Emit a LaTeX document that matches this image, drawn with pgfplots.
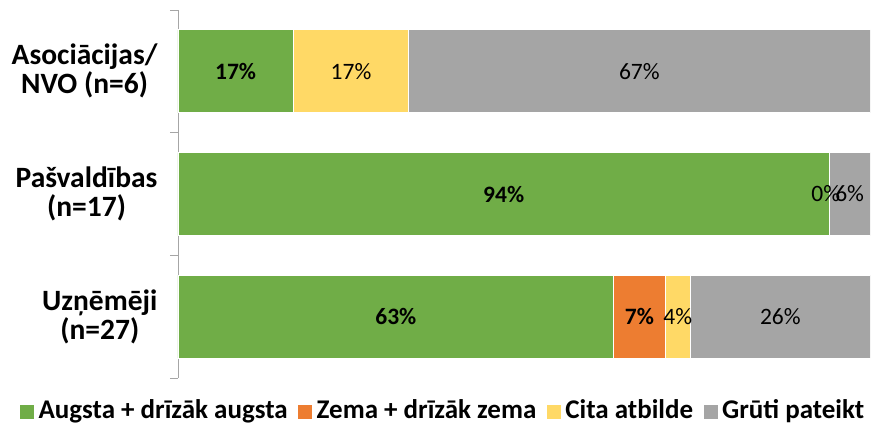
\documentclass[border=0pt]{standalone}
\usepackage{pgfplots}
\pgfplotsset{compat=1.18}
\usepackage{fontspec}
\setmainfont{Carlito}
\definecolor{cgreen}{HTML}{70AD47}
\definecolor{corange}{HTML}{ED7D31}
\definecolor{cyellow}{HTML}{FFD966}
\definecolor{cgrey}{HTML}{A5A5A5}
\begin{document}
\begin{tikzpicture}
\useasboundingbox (-178pt,-46pt) rectangle (697pt,378pt);
\begin{axis}[
 scale only axis, width=692pt, height=368pt,
 xmin=0, xmax=100, ymin=-0.5, ymax=2.5, y dir=reverse,
 xbar stacked, bar width=83pt,
 axis x line=none, axis y line*=left,
 y axis line style={gray!70, line width=0.8pt},
 ytick={0,1,2},
 yticklabels={{Asociācijas/\\NVO (n=6)},{Pašvaldības\\(n=17)},{Uzņēmēji\\(n=27)}},
 major tick length=0pt,
 minor ytick={-0.5,0.5,1.5,2.5}, minor tick length=8pt,
 tick align=outside, ytick pos=left,
 minor tick style={gray!70, line width=0.8pt},
 yticklabel style={align=center, font=\fontsize{29.5}{29}\selectfont\bfseries, xshift=-17pt},
 legend columns=-1,
 legend style={at={(axis description cs:0.385,-0.087)}, anchor=center, draw=none, fill=none,
   font=\fontsize{27}{30}\selectfont\bfseries, inner sep=0pt,
   nodes={inner xsep=4.5pt},
   /tikz/every even column/.append style={column sep=6pt}},
 legend image code/.code={\path[#1,draw=none] (0pt,-9pt) rectangle (14pt,5pt);},
]
\addplot[fill=cgreen, draw=white, line width=0.8pt] coordinates {(16.67,0) (94.12,1) (62.96,2)};
\addplot[fill=corange, draw=white, line width=0.8pt] coordinates {(0,0) (0,1) (7.41,2)};
\addplot[fill=cyellow, draw=white, line width=0.8pt] coordinates {(16.67,0) (0,1) (3.70,2)};
\addplot[fill=cgrey, draw=white, line width=0.8pt] coordinates {(66.67,0) (5.88,1) (25.93,2)};
\legend{Augsta + drīzāk augsta, Zema + drīzāk zema, Cita atbilde, Grūti pateikt}
\end{axis}
\begin{axis}[
 scale only axis, width=692pt, height=368pt,
 xmin=0, xmax=100, ymin=-0.5, ymax=2.5, y dir=reverse,
 hide axis, clip=false,
 point meta=explicit symbolic,
 nodes near coords, nodes near coords align=center,
]
\addplot[only marks, mark=none,
  every node near coord/.append style={font=\fontsize{23.5}{28}\selectfont\bfseries, text=black, anchor=center}]
  table[meta=l] {
x y l
8.33 0 17\%
47.06 1 94\%
31.48 2 63\%
66.67 2 7\%
};
\addplot[only marks, mark=none,
  every node near coord/.append style={font=\fontsize{23.5}{28}\selectfont, text=black, anchor=center}]
  table[meta=l] {
x y l
25.0 0 17\%
66.67 0 67\%
93.6 1 0\%
97.06 1 6\%
72.22 2 4\%
87.04 2 26\%
};
\end{axis}
\end{tikzpicture}
\end{document}
